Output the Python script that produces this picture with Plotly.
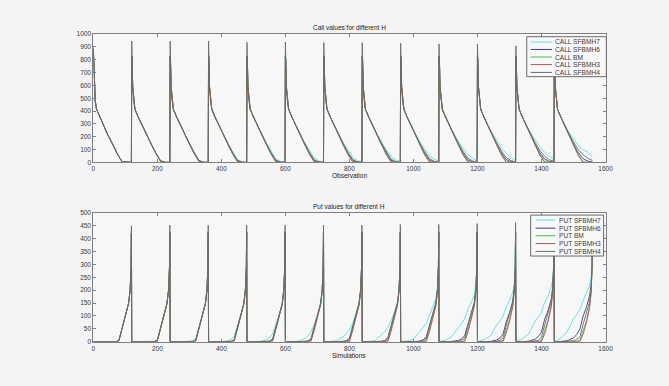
import plotly.graph_objects as go

# ---------------- data ----------------
N_BLOCKS = 13
BLOCK_LEN = [120] * 13  # observations per block

# CALL values: sample offsets within each block
OFF_C = [0, 1, 3, 6, 10, 20, 30, 45, 60, 75, 90, 105, 119]
CALL_HEAD = [800, 590, 480, 415, 355, 300]          # offsets 1..30 (all series)
CALL_PEAK_H4 = [905, 946, 946, 946, 936, 938, 934, 934, 929, 924, 923, 908, 900]
CALL_PEAK_OTHERS = [885, 830, 830, 830, 830, 830, 830, 830, 830, 830, 830, 830, 830]

# tails at offsets 45, 60, 75, 90, 105, 119
CALL_TAIL_H7 = [
    [215, 145, 65, 5, 0, 0], [220, 149, 76, 15, 1, 0], [221, 150, 79, 18, 2, 0],
    [222, 152, 82, 22, 4, 0], [223, 154, 86, 28, 7, 1], [224, 156, 90, 34, 10, 2],
    [226, 158, 94, 41, 14, 4], [227, 160, 98, 48, 19, 6], [228, 163, 103, 55, 25, 9],
    [230, 166, 108, 62, 31, 12], [232, 170, 115, 70, 38, 16], [235, 175, 122, 78, 45, 22],
    [238, 178, 128, 100, 78, 40]]
CALL_TAIL_H6 = [
    [215, 145, 65, 5, 0, 0], [219, 147, 73, 11, 0, 0], [219, 147, 73, 12, 0, 0],
    [219, 146, 73, 13, 0, 0], [218, 146, 73, 14, 1, 0], [218, 145, 73, 15, 1, 0],
    [218, 145, 73, 16, 2, 0], [217, 144, 73, 17, 2, 0], [217, 144, 73, 18, 3, 0],
    [216, 143, 73, 20, 4, 0], [216, 143, 73, 22, 5, 1], [215, 142, 74, 25, 7, 2],
    [215, 142, 75, 28, 9, 3]]
CALL_TAIL_BM = [
    [215, 145, 65, 5, 0, 0], [218, 146, 72, 9, 0, 0], [217, 145, 71, 8, 0, 0],
    [216, 144, 70, 8, 0, 0], [215, 143, 69, 7, 0, 0], [215, 142, 68, 7, 0, 0],
    [214, 141, 67, 6, 0, 0], [213, 140, 66, 6, 0, 0], [213, 139, 65, 5, 0, 0],
    [212, 138, 64, 5, 0, 0], [211, 137, 63, 4, 0, 0], [210, 136, 62, 4, 0, 0],
    [210, 135, 61, 3, 0, 0]]
CALL_TAIL_H3 = [
    [215, 145, 65, 5, 0, 0], [217, 145, 70, 7, 0, 0], [216, 144, 69, 6, 0, 0],
    [215, 142, 67, 5, 0, 0], [214, 141, 65, 4, 0, 0], [213, 139, 63, 3, 0, 0],
    [212, 138, 62, 3, 0, 0], [211, 136, 60, 2, 0, 0], [210, 135, 58, 2, 0, 0],
    [209, 133, 57, 1, 0, 0], [208, 132, 55, 1, 0, 0], [207, 130, 54, 1, 0, 0],
    [205, 128, 52, 1, 0, 0]]
CALL_TAIL_H4 = [
    [215, 145, 65, 5, 0, 0], [220, 148, 74, 12, 0, 0], [220, 148, 75, 14, 0, 0],
    [220, 148, 76, 16, 1, 0], [220, 148, 77, 18, 2, 0], [220, 148, 78, 20, 3, 0],
    [221, 149, 80, 23, 4, 0], [222, 150, 82, 26, 6, 0], [222, 150, 84, 30, 8, 1],
    [223, 151, 86, 34, 11, 2], [224, 152, 88, 38, 14, 4], [226, 155, 92, 46, 20, 8],
    [228, 158, 100, 58, 32, 15]]

# PUT values: sample offsets within each block
OFF_P = [0, 20, 40, 60, 70, 80, 90, 100, 110, 115, 118, 119]
PUT_PEAK_H4 = [450, 452, 452, 452, 452, 452, 452, 455, 455, 458, 462, 466, 470]
PUT_PEAK_OTHERS = [422, 425, 425, 425, 425, 425, 425, 425, 425, 425, 425, 425, 425]
# body at offsets 20..118
PUT_BODY_H7 = [
    [0, 0, 0, 0, 5, 55, 100, 148, 200, 290], [0, 0, 0, 2, 8, 56, 100, 148, 200, 290],
    [0, 0, 2, 5, 14, 57, 100, 148, 200, 290], [0, 0, 4, 9, 22, 60, 101, 149, 201, 290],
    [0, 1, 7, 15, 30, 62, 102, 150, 202, 290], [0, 2, 12, 22, 38, 66, 104, 151, 203, 291],
    [1, 4, 18, 30, 46, 72, 108, 153, 204, 292], [1, 5, 25, 38, 55, 80, 115, 155, 205, 293],
    [3, 10, 40, 54, 72, 102, 132, 168, 213, 294], [6, 20, 55, 70, 90, 125, 150, 180, 222, 296],
    [8, 22, 65, 80, 100, 135, 160, 190, 228, 298], [12, 30, 80, 95, 115, 155, 175, 210, 235, 300],
    [15, 38, 90, 105, 125, 160, 190, 218, 250, 307]]
PUT_BODY_H6 = [
    [0, 0, 0, 0, 5, 55, 100, 148, 200, 290], [0, 0, 0, 0, 5, 55, 100, 148, 200, 290],
    [0, 0, 0, 1, 6, 55, 99, 147, 200, 290], [0, 0, 0, 1, 7, 55, 98, 146, 200, 290],
    [0, 0, 0, 2, 9, 55, 97, 145, 200, 290], [0, 0, 1, 3, 11, 56, 97, 145, 200, 290],
    [0, 0, 1, 4, 13, 58, 98, 146, 200, 290], [0, 0, 2, 5, 16, 60, 100, 147, 201, 290],
    [0, 0, 3, 7, 19, 64, 102, 149, 202, 290], [0, 1, 5, 10, 24, 70, 106, 152, 204, 291],
    [0, 1, 7, 14, 30, 78, 112, 157, 207, 292], [0, 2, 10, 20, 38, 88, 120, 163, 211, 294],
    [1, 4, 15, 28, 50, 100, 132, 178, 220, 297]]
PUT_BODY_BM = [
    [0, 0, 0, 0, 5, 55, 100, 148, 200, 290], [0, 0, 0, 0, 4, 54, 99, 148, 200, 290],
    [0, 0, 0, 0, 4, 53, 98, 147, 200, 290], [0, 0, 0, 0, 4, 52, 97, 146, 200, 290],
    [0, 0, 0, 0, 4, 51, 96, 145, 200, 290], [0, 0, 0, 0, 4, 50, 94, 144, 200, 290],
    [0, 0, 0, 0, 4, 49, 93, 143, 199, 290], [0, 0, 0, 0, 4, 48, 91, 142, 199, 290],
    [0, 0, 0, 0, 5, 47, 89, 141, 198, 290], [0, 0, 0, 0, 5, 46, 87, 140, 198, 290],
    [0, 0, 0, 0, 6, 45, 85, 139, 197, 290], [0, 0, 0, 1, 7, 44, 82, 138, 197, 290],
    [0, 0, 0, 1, 8, 43, 80, 137, 196, 290]]
PUT_BODY_H3 = [
    [0, 0, 0, 0, 5, 55, 100, 148, 200, 290], [0, 0, 0, 0, 3, 52, 98, 147, 200, 290],
    [0, 0, 0, 0, 3, 50, 96, 146, 199, 290], [0, 0, 0, 0, 2, 48, 94, 145, 199, 290],
    [0, 0, 0, 0, 2, 46, 92, 144, 198, 290], [0, 0, 0, 0, 2, 44, 90, 143, 198, 290],
    [0, 0, 0, 0, 2, 42, 88, 142, 197, 290], [0, 0, 0, 0, 1, 40, 86, 140, 196, 290],
    [0, 0, 0, 0, 1, 38, 84, 139, 195, 290], [0, 0, 0, 0, 1, 36, 81, 137, 194, 290],
    [0, 0, 0, 0, 1, 34, 78, 135, 193, 290], [0, 0, 0, 0, 1, 32, 75, 133, 192, 290],
    [0, 0, 0, 0, 0, 30, 72, 130, 190, 290]]
PUT_BODY_H4 = [
    [0, 0, 0, 0, 5, 55, 100, 148, 200, 290], [0, 0, 0, 0, 6, 55, 100, 148, 200, 290],
    [0, 0, 0, 0, 6, 56, 100, 148, 200, 290], [0, 0, 0, 1, 8, 57, 100, 148, 200, 290],
    [0, 0, 0, 1, 9, 58, 101, 148, 200, 290], [0, 0, 0, 2, 10, 58, 101, 149, 200, 290],
    [0, 0, 1, 2, 11, 59, 102, 149, 201, 290], [0, 0, 1, 3, 12, 60, 102, 150, 201, 290],
    [0, 0, 1, 3, 13, 61, 103, 150, 202, 290], [0, 0, 2, 4, 15, 62, 104, 151, 202, 290],
    [0, 0, 2, 5, 16, 64, 105, 152, 203, 290], [0, 1, 3, 6, 18, 66, 107, 153, 204, 290],
    [0, 1, 4, 8, 20, 68, 109, 155, 205, 290]]

CALL_NAMES = ["CALL SFBMH7", "CALL SFBMH6", "CALL BM", "CALL SFBMH3", "CALL SFBMH4"]
PUT_NAMES = ["PUT SFBMH7", "PUT SFBMH6", "PUT BM", "PUT SFBMH3", "PUT SFBMH4"]
X_TICKS = [0, 200, 400, 600, 800, 1000, 1200, 1400, 1600]
CALL_Y_TICKS = [0, 100, 200, 300, 400, 500, 600, 700, 800, 900, 1000]
PUT_Y_TICKS = [0, 50, 100, 150, 200, 250, 300, 350, 400, 450, 500]

COLORS = ["#62dede", "#3d3d8e", "#44c244", "#b25656", "#6a6a6a"]
FONT = "Liberation Sans"

# ---------------- build series ----------------
def call_series(tails, peaks):
    xs, ys = [], []
    start = 0
    for k in range(N_BLOCKS):
        row = [peaks[k]] + CALL_HEAD + tails[k]
        xs += [start + o for o in OFF_C]
        ys += row
        start += BLOCK_LEN[k]
    return xs, ys

def put_series(bodies, peaks):
    xs, ys = [], []
    start = 0
    for k in range(N_BLOCKS):
        row = [0] + bodies[k] + [peaks[k]]
        xs += [start + o for o in OFF_P]
        ys += row
        start += BLOCK_LEN[k]
    return xs, ys

call_tails = [CALL_TAIL_H7, CALL_TAIL_H6, CALL_TAIL_BM, CALL_TAIL_H3, CALL_TAIL_H4]
call_peaks = [CALL_PEAK_OTHERS] * 4 + [CALL_PEAK_H4]
put_bodies = [PUT_BODY_H7, PUT_BODY_H6, PUT_BODY_BM, PUT_BODY_H3, PUT_BODY_H4]
put_peaks = [PUT_PEAK_OTHERS] * 4 + [PUT_PEAK_H4]

fig = go.Figure()
for i in range(5):
    x, y = call_series(call_tails[i], call_peaks[i])
    fig.add_trace(go.Scatter(x=x, y=y, mode="lines", name=CALL_NAMES[i],
                             line=dict(color=COLORS[i], width=0.9), xaxis="x", yaxis="y",
                             showlegend=False))
for i in range(5):
    x, y = put_series(put_bodies[i], put_peaks[i])
    fig.add_trace(go.Scatter(x=x, y=y, mode="lines", name=PUT_NAMES[i],
                             line=dict(color=COLORS[i], width=0.9), xaxis="x2", yaxis="y2",
                             showlegend=False))

W, H = 669, 386
def px(v):
    return v / W
def py(v):
    return 1 - v / H

axis_common = dict(showline=True, linecolor="#808080", linewidth=1, mirror="allticks",
                   ticks="inside", ticklen=3, tickcolor="#808080", showgrid=False,
                   zeroline=False, tickfont=dict(family=FONT, size=6.5, color="#3a3a3a"))
XD = [px(92.7), px(612.7)]
fig.update_layout(
    width=W, height=H, margin=dict(l=0, r=0, t=0, b=0),
    paper_bgcolor="#f4f4f4", plot_bgcolor="#f7f7f7",
    xaxis=dict(domain=XD, anchor="y", range=[0, 1600], tickvals=X_TICKS, **axis_common),
    yaxis=dict(domain=[py(161.3), py(30.7)], anchor="x", range=[0, 1000],
               tickvals=CALL_Y_TICKS, **axis_common),
    xaxis2=dict(domain=XD, anchor="y2", range=[0, 1600], tickvals=X_TICKS, **axis_common),
    yaxis2=dict(domain=[py(344), py(212.7)], anchor="x2", range=[0, 500],
                tickvals=PUT_Y_TICKS, **axis_common),
    showlegend=False,
)

cx = px(352.7)
txt = dict(family=FONT, size=6.5, color="#222222")
ann = [
    dict(text="Call values for different H", x=cx, y=py(24.3)),
    dict(text="Observation", x=cx, y=py(175)),
    dict(text="Put values for different H", x=cx, y=py(206)),
    dict(text="Simulations", x=cx, y=py(357.5)),
]
for a in ann:
    fig.add_annotation(xref="paper", yref="paper", showarrow=False, xanchor="center",
                       yanchor="middle", font=txt, **a)

# manual legends (MATLAB style boxes)
def legend(x0, x1, y0, y1, rows, lx0, lx1, tx, names):
    fig.add_shape(type="rect", xref="paper", yref="paper", x0=px(x0), x1=px(x1),
                  y0=py(y1), y1=py(y0), fillcolor="#f8f8f8",
                  line=dict(color="#6a6a6a", width=1), layer="above")
    for i, (yy, nm) in enumerate(zip(rows, names)):
        fig.add_shape(type="line", xref="paper", yref="paper", x0=px(lx0), x1=px(lx1),
                      y0=py(yy), y1=py(yy), line=dict(color=COLORS[i], width=1), layer="above")
        fig.add_annotation(xref="paper", yref="paper", showarrow=False, x=px(tx), y=py(yy),
                           xanchor="left", yanchor="middle", text=nm,
                           font=dict(family=FONT, size=6.6, color="#3a3a3a"))

legend(532.7, 613.5, 33.3, 74, [38.7, 46.3, 54, 61.7, 69.7], 536.7, 558.3, 559.5, CALL_NAMES)
legend(536.7, 610.7, 215, 256.7, [220, 228.3, 236, 244, 252], 541.7, 561.7, 563.0, PUT_NAMES)

fig.write_html("out.html")
